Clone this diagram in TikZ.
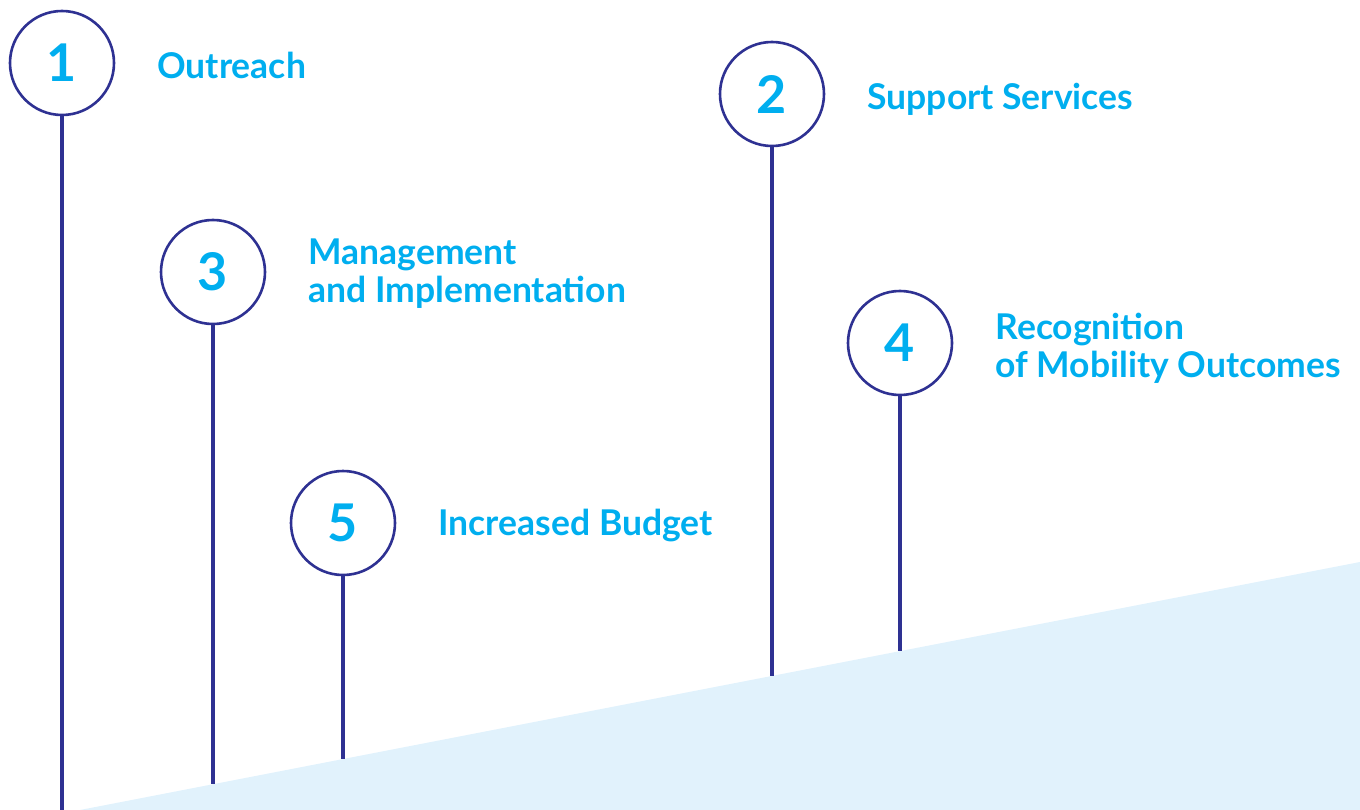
\documentclass[tikz,border=0pt]{standalone}
\usepackage{fontspec}
\setmainfont{Lato}
\usetikzlibrary{positioning}

\definecolor{navy}{HTML}{2E3192}
\definecolor{skyblue}{HTML}{00AEEF}
\definecolor{paleblue}{HTML}{E1F2FC}

\begin{document}
\begin{tikzpicture}[x=1pt,y=-1pt,
                stepcircle/.style={circle,draw=navy,line width=2.6pt,minimum size=104pt,inner sep=0pt,
                  text=skyblue,font=\bfseries\fontsize{52}{52}\selectfont},
                title/.style={text=skyblue,font=\bfseries\fontsize{35.5}{38}\selectfont,align=left,inner sep=0pt,anchor=base west},
                stem/.style={draw=navy,line width=3.8pt}]
  \useasboundingbox (0,0) rectangle (1360,810);
  \fill[paleblue] (80,810) -- (1360,562) -- (1360,810) -- cycle;

  \node[stepcircle] (1) at (62,63) {1};
  \node[stepcircle] (2) at (772,94) {2};
  \node[stepcircle] (3) at (213,272) {3};
  \node[stepcircle] (4) at (900,343) {4};
  \node[stepcircle] (5) at (343,523) {5};

  \node[title, right=42pt of 1, anchor=base west, yshift=-16pt] (l1) {Outreach};
  \node[title, right=42pt of 2, anchor=base west, yshift=-16pt] (l2) {Support Services};
  \node[title, right=42pt of 3, anchor=base west, yshift=-31pt] (l3) {Management\\and Implementation};
  \node[title, right=42pt of 4, anchor=base west, yshift=-34pt] (l4) {Recognition\\of Mobility Outcomes};
  \node[title, right=42pt of 5, anchor=base west, yshift=-12pt] (l5) {Increased Budget};

  % ends of the stems on the ground
  \coordinate (g1) at (62,810);
  \coordinate (g2) at (772,676);
  \coordinate (g3) at (213,784);
  \coordinate (g4) at (900,651);
  \coordinate (g5) at (343,759);

  \foreach \i in {1,...,5}
    \draw[stem] (\i.south) -- (g\i);
\end{tikzpicture}
\end{document}
